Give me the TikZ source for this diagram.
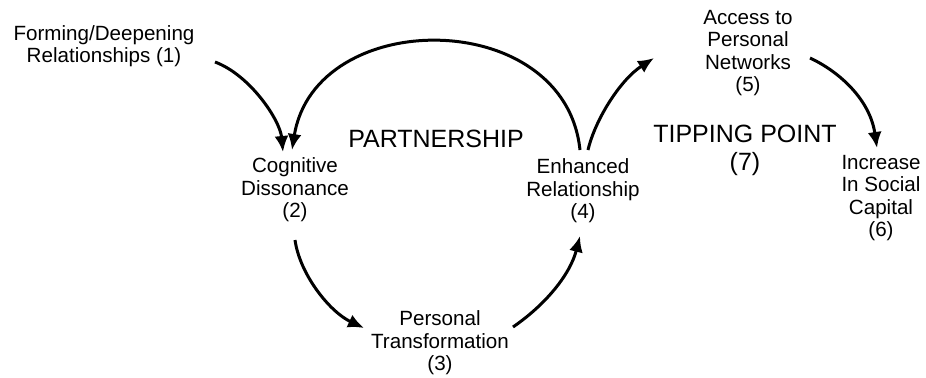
\documentclass[tikz,border=0pt]{standalone}
\usepackage{fontspec}
\setmainfont{Liberation Sans}
\usetikzlibrary{arrows.meta}
\begin{document}
\begin{tikzpicture}[x=0.5pt,y=-0.5pt,
  lbl/.style={align=center, inner sep=0pt, font=\fontsize{10.3}{11.2}\selectfont},
  big/.style={align=center, inner sep=0pt, font=\fontsize{12.5}{14}\selectfont},
  conn/.style={line width=1.5pt, -{Latex[length=8pt,width=7pt]}}]
\useasboundingbox (0,0) rectangle (926,377);
\node[lbl] (n1) at (104,46) {Forming/Deepening\\Relationships (1)};
\node[lbl] (n2) at (295,190) {Cognitive\\Dissonance\\(2)};
\node[lbl] (n3) at (440,343) {Personal\\Transformation\\(3)};
\node[lbl] (n4) at (583,191) {Enhanced\\Relationship\\(4)};
\node[lbl] (n5) at (748,53) {Access to\\Personal\\Networks\\(5)};
\node[lbl] (n6) at (881,198) {Increase\\In Social\\Capital\\(6)};
\node[big] (p) at (436,139) {PARTNERSHIP};
\node[big] (t) at (745,150) {TIPPING POINT\\(7)};
% connectors
\draw[conn] ([shift={(111,16)}]n1.center) .. controls (250,75) and (280,120) .. ([shift={(-12,-38)}]n2.center);
\draw[conn] ([shift={(-3,-41)}]n4.center) .. controls (565,6) and (315,6) .. ([shift={(-3,-40)}]n2.center);
\draw[conn] ([shift={(0,50)}]n2.center) .. controls (300,275) and (330,312) .. ([shift={(-76,-15)}]n3.center);
\draw[conn] ([shift={(73,-16)}]n3.center) .. controls (545,305) and (570,275) .. ([shift={(-3,45)}]n4.center);
\draw[conn] ([shift={(5,-41)}]n4.center) .. controls (595,120) and (620,80) .. ([shift={(-94,5)}]n5.center);
\draw[conn] ([shift={(62,5)}]n5.center) .. controls (840,72) and (870,100) .. ([shift={(-4,-50)}]n6.center);
\end{tikzpicture}
\end{document}
